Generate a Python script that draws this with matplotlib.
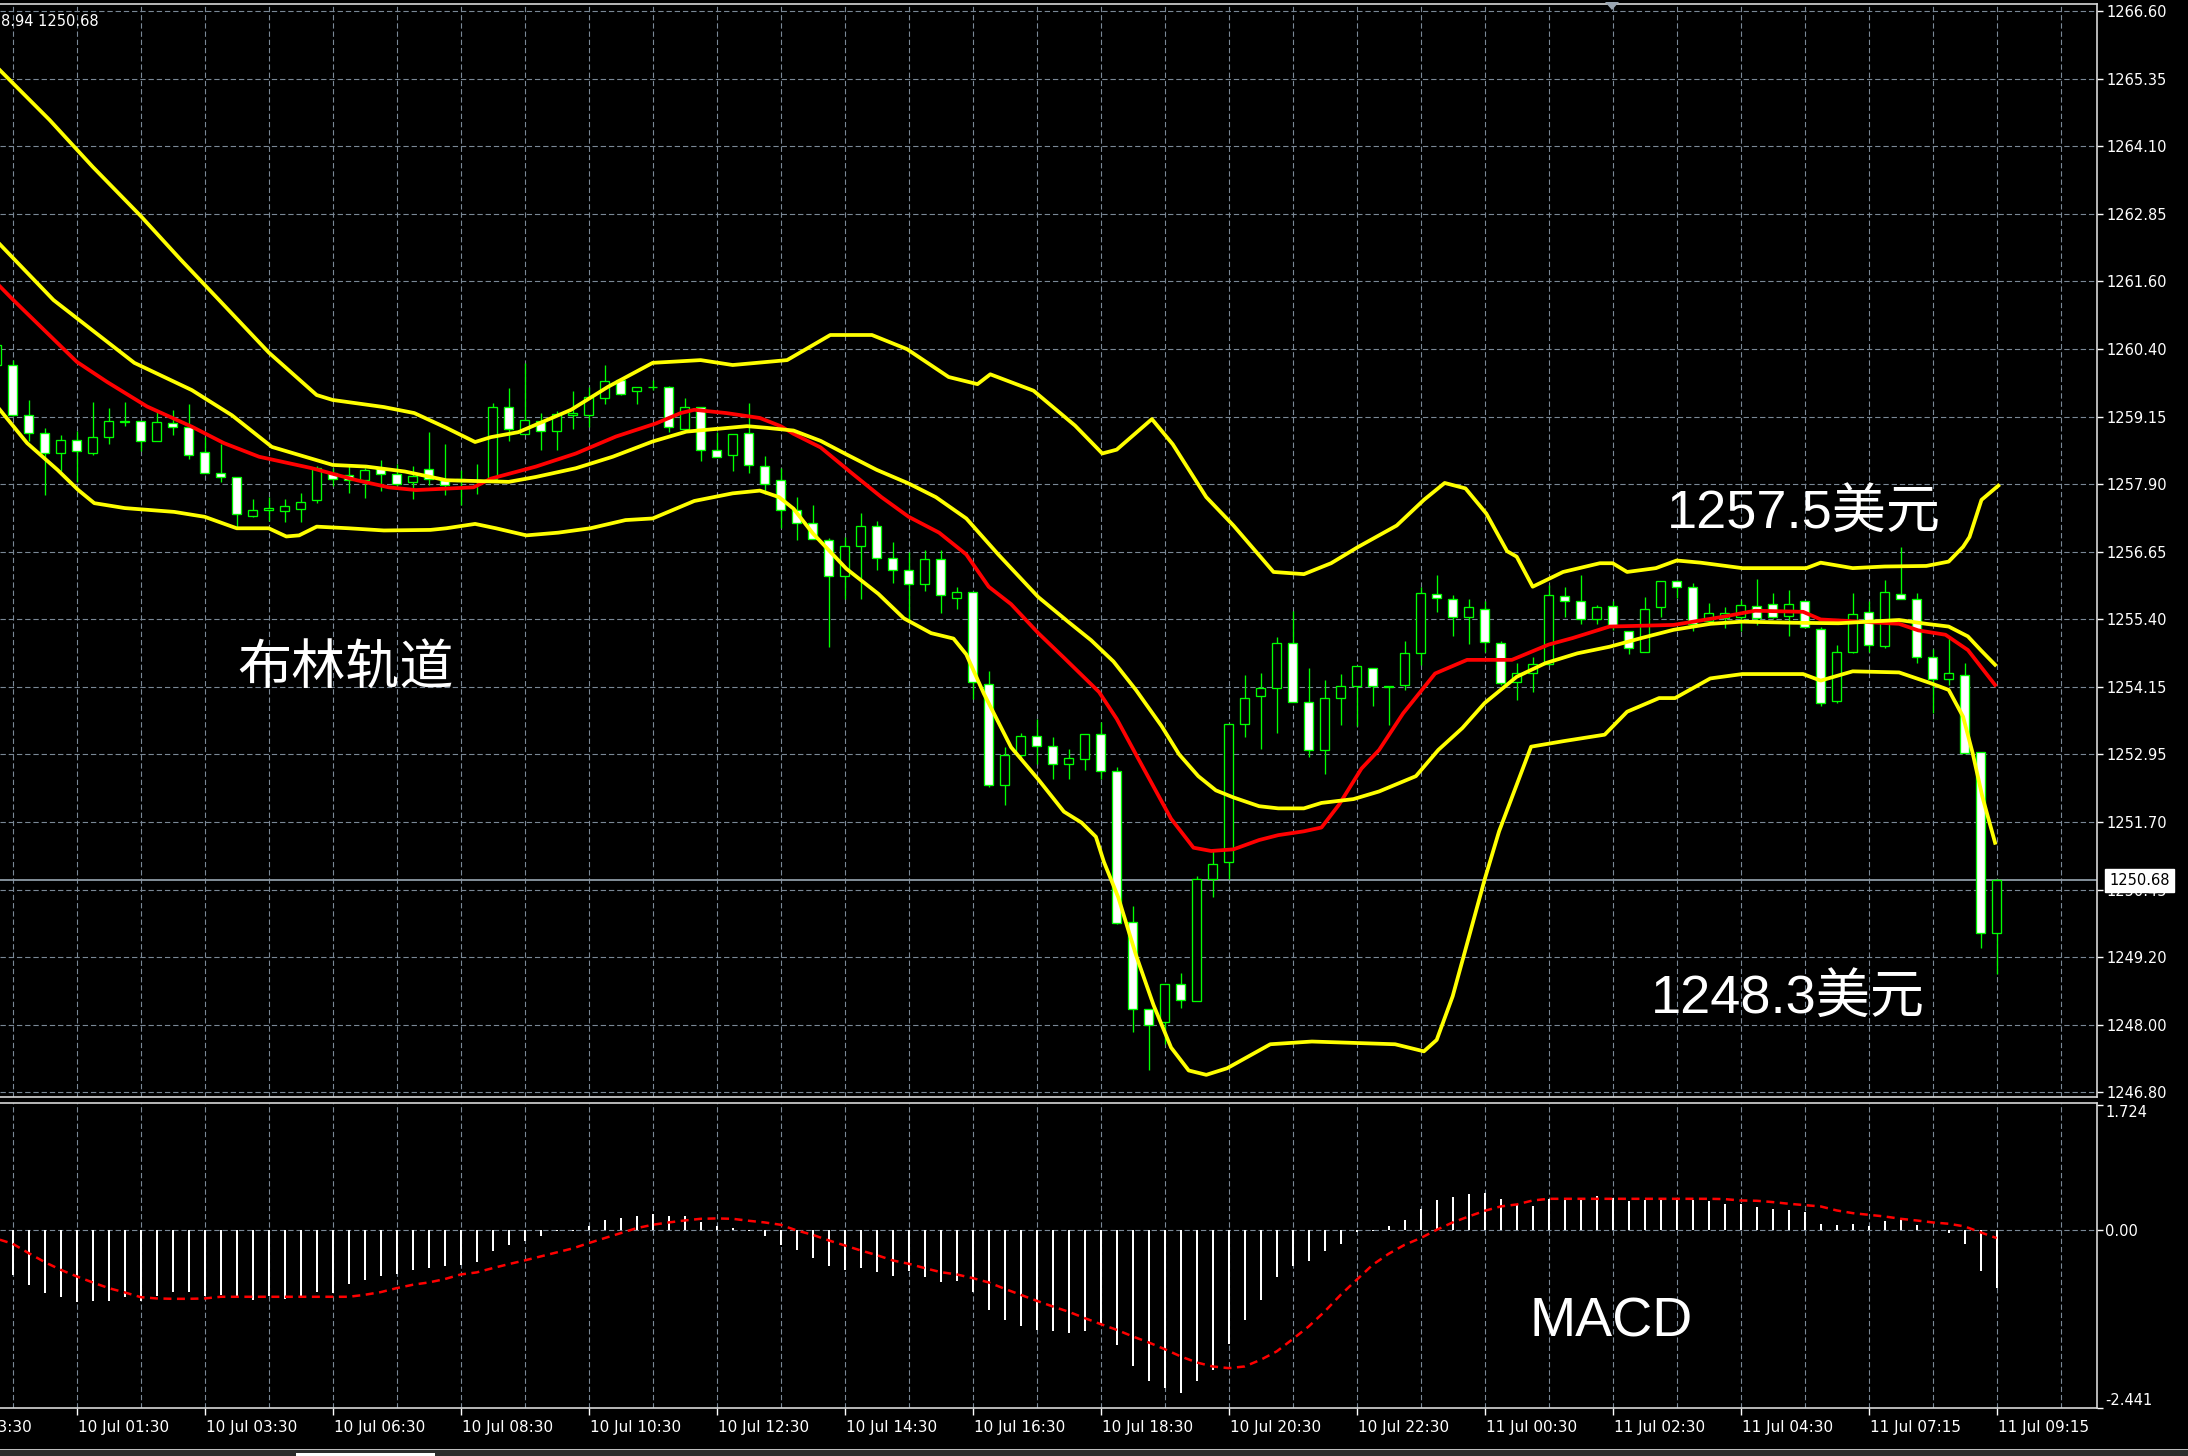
import matplotlib
matplotlib.use('Agg')
import matplotlib.pyplot as plt
import matplotlib.transforms as mtransforms
from matplotlib.patches import Polygon, Rectangle

# ---------------- data ----------------
bar_index = list(range(-1, 125))
opens = [1260.12, 1260.12, 1259.21, 1258.88, 1258.51, 1258.74, 1258.50, 1258.80, 1259.08, 1259.10,
         1258.72, 1259.06, 1258.99, 1258.52, 1258.15, 1258.07, 1257.36, 1257.46, 1257.45, 1257.49,
         1257.64, 1258.14, 1258.10, 1258.01, 1258.23, 1258.12, 1257.97, 1258.21, 1258.01, 1258.03,
         1258.00, 1258.03, 1259.36, 1258.85, 1259.10, 1258.91, 1259.21, 1259.20, 1259.52, 1259.84,
         1259.64, 1259.72, 1259.72, 1258.95, 1259.35, 1258.56, 1258.47, 1258.88, 1258.27, 1258.01,
         1257.46, 1257.22, 1256.92, 1256.26, 1256.80, 1257.18, 1256.59, 1256.36, 1256.11, 1256.56,
         1255.85, 1255.97, 1254.28, 1252.43, 1252.98, 1253.33, 1253.14, 1252.81, 1252.91, 1253.37,
         1252.69, 1249.91, 1248.33, 1248.08, 1248.78, 1248.47, 1250.71, 1251.01, 1253.54, 1254.05,
         1254.20, 1255.02, 1253.94, 1253.07, 1254.02, 1254.25, 1254.57, 1254.25, 1254.26, 1254.84,
         1255.93, 1255.83, 1255.50, 1255.65, 1255.02, 1254.32, 1254.48, 1254.65, 1255.89, 1255.79,
         1255.46, 1255.71, 1255.24, 1254.87, 1255.68, 1256.16, 1256.06, 1255.44, 1255.48, 1255.51,
         1255.71, 1255.75, 1255.52, 1255.79, 1255.28, 1253.96, 1254.87, 1255.60, 1254.97, 1255.93,
         1255.83, 1254.77, 1254.37, 1254.44, 1253.04, 1249.72]
highs = [1260.60, 1260.21, 1259.48, 1258.97, 1258.83, 1258.92, 1259.44, 1259.33, 1259.44, 1259.10,
         1259.27, 1259.29, 1259.40, 1258.81, 1258.68, 1258.07, 1257.66, 1257.70, 1257.66, 1257.77,
         1258.27, 1258.24, 1258.27, 1258.24, 1258.38, 1258.30, 1258.27, 1258.89, 1258.67, 1258.19,
         1258.31, 1259.43, 1259.69, 1260.15, 1259.24, 1259.27, 1259.65, 1259.71, 1260.12, 1259.89,
         1259.72, 1259.85, 1259.74, 1259.51, 1259.35, 1258.90, 1258.85, 1259.43, 1258.46, 1258.24,
         1257.70, 1257.55, 1256.95, 1256.97, 1257.41, 1257.26, 1256.88, 1256.70, 1256.73, 1256.73,
         1256.05, 1255.97, 1254.51, 1253.12, 1253.38, 1253.63, 1253.30, 1253.08, 1253.37, 1253.59,
         1252.76, 1250.22, 1248.33, 1248.78, 1248.98, 1250.77, 1251.25, 1253.54, 1254.44, 1254.48,
         1255.14, 1255.61, 1254.57, 1254.36, 1254.47, 1254.61, 1254.57, 1254.25, 1255.07, 1256.06,
         1256.27, 1255.91, 1255.83, 1255.79, 1255.07, 1254.66, 1254.78, 1256.09, 1256.06, 1256.27,
         1255.72, 1255.79, 1255.24, 1255.88, 1256.16, 1256.18, 1256.12, 1255.77, 1255.68, 1255.82,
         1256.21, 1255.94, 1256.00, 1255.79, 1255.33, 1254.99, 1255.94, 1255.79, 1256.19, 1256.79,
         1255.94, 1254.91, 1255.12, 1254.66, 1253.04, 1250.70]
lows = [1260.00, 1259.19, 1258.72, 1257.74, 1258.18, 1257.97, 1258.47, 1258.68, 1259.01, 1258.54,
        1258.72, 1258.83, 1258.39, 1258.15, 1257.97, 1257.15, 1257.33, 1257.27, 1257.24, 1257.24,
        1257.60, 1257.91, 1257.78, 1257.69, 1257.81, 1257.91, 1257.66, 1257.93, 1257.74, 1257.56,
        1257.75, 1258.00, 1258.72, 1258.85, 1258.57, 1258.57, 1258.95, 1258.99, 1259.40, 1259.57,
        1259.40, 1259.66, 1258.89, 1258.94, 1258.37, 1258.43, 1258.18, 1258.14, 1257.75, 1257.13,
        1256.92, 1256.93, 1254.95, 1255.84, 1255.84, 1256.36, 1256.13, 1255.41, 1255.99, 1255.57,
        1255.65, 1254.00, 1252.40, 1252.07, 1252.92, 1252.82, 1252.53, 1252.53, 1252.71, 1252.53,
        1249.88, 1247.91, 1247.20, 1247.68, 1248.35, 1248.47, 1250.38, 1250.70, 1253.30, 1253.09,
        1253.38, 1253.94, 1252.95, 1252.63, 1253.53, 1253.50, 1253.87, 1253.53, 1254.17, 1254.63,
        1255.60, 1255.16, 1255.01, 1254.87, 1254.26, 1253.99, 1254.14, 1254.63, 1255.51, 1255.38,
        1255.38, 1255.27, 1254.83, 1254.87, 1255.51, 1255.85, 1255.24, 1255.36, 1255.30, 1255.24,
        1255.36, 1255.48, 1255.16, 1255.30, 1253.88, 1253.93, 1254.84, 1254.87, 1254.94, 1255.83,
        1254.66, 1253.74, 1254.26, 1253.02, 1249.45, 1248.96]
closes = [1260.48, 1259.20, 1258.88, 1258.51, 1258.74, 1258.54, 1258.81, 1259.10, 1259.10, 1258.72,
          1259.07, 1258.99, 1258.48, 1258.15, 1258.07, 1257.39, 1257.46, 1257.50, 1257.53, 1257.61,
          1258.23, 1258.04, 1258.01, 1258.19, 1258.13, 1257.95, 1258.09, 1258.03, 1257.92, 1258.00,
          1258.02, 1259.36, 1258.94, 1259.12, 1258.92, 1259.22, 1259.24, 1259.54, 1259.83, 1259.59,
          1259.72, 1259.71, 1258.98, 1259.35, 1258.56, 1258.44, 1258.85, 1258.29, 1257.95, 1257.46,
          1257.22, 1256.93, 1256.26, 1256.81, 1257.18, 1256.59, 1256.36, 1256.11, 1256.56, 1255.90,
          1255.97, 1254.31, 1252.43, 1252.98, 1253.33, 1253.14, 1252.81, 1252.92, 1253.37, 1252.69,
          1249.90, 1248.33, 1248.04, 1248.78, 1248.49, 1250.71, 1250.98, 1253.54, 1254.02, 1254.20,
          1255.02, 1253.94, 1253.07, 1254.02, 1254.25, 1254.61, 1254.25, 1254.23, 1254.84, 1255.94,
          1255.86, 1255.51, 1255.68, 1255.05, 1254.29, 1254.48, 1254.65, 1255.91, 1255.80, 1255.46,
          1255.68, 1255.34, 1254.94, 1255.65, 1256.16, 1256.05, 1255.38, 1255.57, 1255.57, 1255.72,
          1255.48, 1255.51, 1255.75, 1255.33, 1253.93, 1254.87, 1255.56, 1254.99, 1255.97, 1255.83,
          1254.77, 1254.37, 1254.48, 1253.02, 1249.72, 1250.68]

# Bollinger bands (yellow) and moving average (red), sampled at bar positions
upper_x = [-0.8, 2.3, 5, 8, 10.5, 12.9, 16.0, 19.0, 20.0, 23.2, 25.1, 27.1, 28.9, 29.9, 31.6, 34.9,
           37.2, 40.0, 43.0, 45, 48.4, 51.1, 53.7, 55.9, 58.5, 60.3, 61.1, 63.8, 66.4, 68.1, 69,
           71.2, 72.5, 74.6, 76.3, 78.8, 80.7, 82.4, 84.1, 86.5, 88.2, 89.5, 90.8, 92.1, 93.4, 94,
           95, 96.9, 99.2, 100, 100.9, 102.7, 104, 105.5, 108.1, 112.1, 113, 115, 117, 119.6, 121,
           121.9, 122.3, 123.05, 124.1]
upper_y = [1265.52, 1264.61, 1263.75, 1262.85, 1262.05, 1261.31, 1260.35, 1259.57, 1259.48, 1259.35,
           1259.24, 1258.97, 1258.71, 1258.80, 1258.89, 1259.30, 1259.72, 1260.16, 1260.21, 1260.12,
           1260.21, 1260.67, 1260.67, 1260.41, 1259.90, 1259.77, 1259.95, 1259.65, 1259.01, 1258.50,
           1258.57, 1259.13, 1258.67, 1257.70, 1257.18, 1256.33, 1256.29, 1256.49, 1256.79, 1257.18,
           1257.65, 1257.96, 1257.86, 1257.40, 1256.71, 1256.61, 1256.06, 1256.33, 1256.49, 1256.49,
           1256.33, 1256.40, 1256.54, 1256.50, 1256.40, 1256.40, 1256.50, 1256.40, 1256.43, 1256.44,
           1256.52, 1256.79, 1256.97, 1257.65, 1257.91]
middle_x = [-0.8, 2.55, 7.6, 11.2, 13.7, 16.2, 20, 22.1, 24.5, 27.1, 31, 32.7, 35.2, 37.5, 40, 42.1,
            43.6, 45.9, 47.1, 48.8, 50.5, 52, 54, 56, 57.7, 59.6, 61.6, 64.1, 66, 67.4, 68.8, 70.2,
            71.8, 72.9, 74.1, 75.2, 76.3, 77.9, 79.1, 80.7, 81.8, 83.8, 85.4, 87.7, 89.1, 90.6, 92,
            94, 95.8, 97.8, 99.8, 101.8, 103.8, 106.1, 108.1, 111.3, 114.1, 117.9, 119.6, 121,
            122.2, 123, 123.9]
middle_y = [1262.33, 1261.31, 1260.16, 1259.66, 1259.20, 1258.62, 1258.29, 1258.26, 1258.17, 1258.01,
            1257.98, 1258.07, 1258.23, 1258.44, 1258.72, 1258.90, 1258.94, 1259.00, 1258.97, 1258.92,
            1258.73, 1258.50, 1258.20, 1257.95, 1257.70, 1257.31, 1256.65, 1255.87, 1255.41, 1255.08,
            1254.69, 1254.17, 1253.51, 1252.99, 1252.59, 1252.33, 1252.20, 1252.04, 1252.00, 1252.00,
            1252.10, 1252.17, 1252.31, 1252.59, 1253.07, 1253.47, 1253.93, 1254.41, 1254.66, 1254.84,
            1254.96, 1255.12, 1255.27, 1255.38, 1255.42, 1255.40, 1255.39, 1255.45, 1255.38, 1255.33,
            1255.15, 1254.90, 1254.63]
lower_x = [-0.8, 0.9, 2.8, 4.1, 5.1, 7, 10.1, 12, 14, 16, 17.1, 17.9, 19, 21, 23.2, 26.1, 27.1, 28.9,
           30.2, 32.1, 34.1, 36.1, 38.3, 40, 42.6, 45, 46.7, 47.9, 48.8, 50, 52.1, 54.1, 55.7, 57.4,
           58.8, 59.6, 60.7, 62.4, 64.1, 65.7, 66.8, 67.7, 68.2, 69.1, 70.2, 71.3, 72.4, 73.5, 74.6,
           75.9, 78.6, 81.2, 86.4, 88.2, 89, 90, 92, 92.9, 94.9, 96.9, 99.5, 100.9, 102.9, 103.9,
           106.1, 108.1, 111.9, 113, 115, 117.9, 119.9, 121, 121.9, 122.5, 123.1, 123.9]
lower_y = [1259.30, 1258.69, 1258.20, 1257.83, 1257.59, 1257.50, 1257.43, 1257.34, 1257.13, 1257.13,
           1256.98, 1257.00, 1257.16, 1257.13, 1257.09, 1257.10, 1257.13, 1257.21, 1257.13, 1257.00,
           1257.05, 1257.13, 1257.28, 1257.31, 1257.63, 1257.77, 1257.82, 1257.70, 1257.49, 1257.04,
           1256.39, 1255.93, 1255.48, 1255.21, 1255.11, 1254.82, 1254.10, 1253.12, 1252.53, 1251.94,
           1251.74, 1251.48, 1251.02, 1250.37, 1249.32, 1248.40, 1247.62, 1247.20, 1247.12, 1247.24,
           1247.68, 1247.73, 1247.68, 1247.55, 1247.76, 1248.56, 1250.70, 1251.58, 1253.13, 1253.23,
           1253.35, 1253.77, 1254.02, 1254.02, 1254.38, 1254.46, 1254.46, 1254.34, 1254.51, 1254.49,
           1254.29, 1254.17, 1253.68, 1253.01, 1252.22, 1251.37]
red_x = [-0.8, 0.04, 4, 5.9, 8.4, 11.2, 13.2, 15.4, 18.7, 21.5, 23.5, 25.2, 28.8, 29.9, 32.7, 35.2,
         37.7, 40.2, 41.75, 42.6, 44.6, 46.7, 48, 48.8, 50.5, 52.4, 54.3, 56, 57.9, 59.6, 61, 62.4,
         64.1, 65.7, 67.1, 67.9, 69, 70.2, 71.3, 72.4, 73.8, 74.9, 76.3, 77.9, 79.1, 80.7, 81.8,
         82.9, 84.3, 85.4, 86.9, 88.9, 90.9, 93.7, 96, 97.5, 99.8, 103.8, 106.9, 108.9, 111.9, 113,
         117.9, 119.1, 120.8, 122.2, 123.9]
red_y = [1261.56, 1261.31, 1260.18, 1259.81, 1259.36, 1258.99, 1258.69, 1258.44, 1258.23, 1258.01,
         1257.88, 1257.83, 1257.88, 1258.04, 1258.26, 1258.50, 1258.81, 1259.05, 1259.24, 1259.30,
         1259.24, 1259.15, 1259.00, 1258.86, 1258.61, 1258.15, 1257.70, 1257.34, 1257.05, 1256.65,
         1256.06, 1255.74, 1255.21, 1254.76, 1254.36, 1254.13, 1253.64, 1252.99, 1252.40, 1251.81,
         1251.28, 1251.22, 1251.25, 1251.42, 1251.51, 1251.58, 1251.65, 1252.07, 1252.73, 1253.07,
         1253.74, 1254.47, 1254.72, 1254.72, 1255.00, 1255.12, 1255.33, 1255.36, 1255.51, 1255.62,
         1255.60, 1255.46, 1255.38, 1255.26, 1255.18, 1254.90, 1254.26]

# MACD histogram (bars 0..124) and signal line
macd_bars = list(range(0, 125))
macd_hist = [-0.610, -0.756, -0.862, -0.921, -0.985, -0.976, -0.976, -0.921, -0.976, -0.898,
             -0.843, -0.848, -0.907, -0.885, -0.907, -0.953, -0.907, -0.944, -0.907, -0.852,
             -0.862, -0.733, -0.678, -0.623, -0.596, -0.541, -0.518, -0.486, -0.472, -0.431,
             -0.289, -0.206, -0.151, -0.073, -0.014, -0.004, 0.064, 0.147, 0.170, 0.202,
             0.225, 0.202, 0.192, 0.119, 0.064, 0.037, -0.005, -0.073, -0.202, -0.266,
             -0.376, -0.486, -0.541, -0.518, -0.568, -0.623, -0.564, -0.646, -0.706, -0.701,
             -0.852, -1.091, -1.228, -1.311, -1.366, -1.389, -1.412, -1.389, -1.297, -1.581,
             -1.861, -2.076, -2.168, -2.236, -2.076, -1.916, -1.558, -1.228, -0.953, -0.646,
             -0.486, -0.426, -0.289, -0.183, -0.027, -0.005, 0.064, 0.147, 0.293, 0.422,
             0.454, 0.500, 0.509, 0.431, 0.348, 0.339, 0.431, 0.440, 0.431, 0.472,
             0.440, 0.399, 0.422, 0.431, 0.431, 0.422, 0.399, 0.367, 0.367, 0.316,
             0.289, 0.284, 0.257, 0.092, 0.069, 0.092, 0.064, 0.124, 0.156, 0.078,
             0.005, -0.037, -0.183, -0.564, -0.793]
signal_x = [-0.8] + list(range(0, 125))
signal_y = [-0.128,
            -0.183, -0.312, -0.435, -0.541, -0.632, -0.715, -0.793, -0.852, -0.917, -0.935,
            -0.940, -0.940, -0.935, -0.912, -0.912, -0.912, -0.912, -0.912, -0.912, -0.912,
            -0.912, -0.912, -0.885, -0.848, -0.793, -0.747, -0.715, -0.669, -0.605, -0.577,
            -0.518, -0.463, -0.412, -0.357, -0.302, -0.247, -0.174, -0.105, -0.037, 0.032,
            0.078, 0.110, 0.137, 0.160, 0.165, 0.160, 0.133, 0.110, 0.078, 0.000,
            -0.060, -0.137, -0.206, -0.275, -0.339, -0.412, -0.458, -0.518, -0.573, -0.605,
            -0.655, -0.715, -0.802, -0.885, -0.967, -1.045, -1.118, -1.205, -1.288, -1.366,
            -1.457, -1.540, -1.632, -1.732, -1.815, -1.870, -1.893, -1.870, -1.778, -1.663,
            -1.494, -1.320, -1.114, -0.885, -0.678, -0.472, -0.321, -0.197, -0.105, 0.009,
            0.110, 0.192, 0.270, 0.330, 0.357, 0.412, 0.435, 0.435, 0.435, 0.435,
            0.435, 0.435, 0.435, 0.435, 0.435, 0.435, 0.435, 0.431, 0.412, 0.408,
            0.390, 0.367, 0.348, 0.330, 0.275, 0.238, 0.215, 0.192, 0.160, 0.137,
            0.110, 0.092, 0.055, -0.027, -0.105]

price_ticks = [1266.6000, 1265.3625, 1264.1250, 1262.8875, 1261.6500, 1260.4125, 1259.1750,
               1257.9375, 1256.7000, 1255.4625, 1254.2250, 1252.9875, 1251.7500, 1250.5125,
               1249.2750, 1248.0375, 1246.8000]
price_labels = ["1266.60", "1265.35", "1264.10", "1262.85", "1261.60", "1260.40", "1259.15",
                "1257.90", "1256.65", "1255.40", "1254.15", "1252.95", "1251.70", "1250.45",
                "1249.20", "1248.00", "1246.80"]
macd_ticks = [1.724, 0.0, -2.441]
macd_labels = ["1.724", "0.00", "-2.441"]
time_bars = [-4, 4, 12, 20, 28, 36, 44, 52, 60, 68, 76, 84, 92, 100, 108, 116, 124]
time_labels = ["9 Jul 23:30", "10 Jul 01:30", "10 Jul 03:30", "10 Jul 06:30", "10 Jul 08:30",
               "10 Jul 10:30", "10 Jul 12:30", "10 Jul 14:30", "10 Jul 16:30", "10 Jul 18:30",
               "10 Jul 20:30", "10 Jul 22:30", "11 Jul 00:30", "11 Jul 02:30", "11 Jul 04:30",
               "11 Jul 07:15", "11 Jul 09:15"]
grid_bars = list(range(0, 132, 4))
current_price = 1250.68
info_text = "8.94 1250.68"
annotations = [("1257.5美元", 111.96, 1257.39), ("1248.3美元", 110.96, 1248.51),
               ("布林轨道", 20.8, 1254.53)]
macd_title = ("MACD", 99.9, -1.269)

# ---------------- style ----------------
W, H, DPI = 2188, 1456, 100
BG = 'black'
GRID = '#7a8896'
FRAME = '#d8d8d8'
GREEN = '#00ff00'
YELLOW = '#ffff00'
RED = '#ff0000'
TXT_FONT = ['DejaVu Sans']
ANN_FONT = ['Liberation Sans', 'Noto Sans CJK SC']
LINE_W = 2.7

fig = plt.figure(figsize=(W / DPI, H / DPI), dpi=DPI, facecolor=BG)


def fy(py):
    return 1 - py / H


ax = fig.add_axes([0, fy(1097), 2097 / W, (1097 - 4) / H], facecolor=BG)
ax2 = fig.add_axes([0, fy(1408), 2097 / W, (1408 - 1103) / H], facecolor=BG)

xlim = (-0.794, 130.27)
for a in (ax, ax2):
    a.set_xlim(*xlim)
    for s in ('top', 'right', 'bottom'):
        a.spines[s].set_color(FRAME)
        a.spines[s].set_linewidth(1.2)
    a.spines['left'].set_visible(False)

ax.set_ylim(1246.714, 1266.732)
ax2.set_ylim(-2.441, 1.752)

dash = (0, (4.8, 2.6))
# grid
for g in grid_bars:
    ax.axvline(g, color=GRID, lw=0.8, ls=dash, zorder=0.5)
    ax2.axvline(g, color=GRID, lw=0.8, ls=dash, zorder=0.5)
for p in price_ticks:
    ax.axhline(p, color=GRID, lw=0.8, ls=dash, zorder=0.5)
ax2.axhline(0, color=GRID, lw=0.8, ls=dash, zorder=0.5)

# current price line
ax.axhline(current_price, color='#8d9aa6', lw=1.3, zorder=1)

# candles
body_w = 0.55
for x, o, h, l, c in zip(bar_index, opens, highs, lows, closes):
    ax.vlines(x, l, h, colors=GREEN, lw=0.95, zorder=2)
    fill = 'white' if c < o else 'black'
    bottom = min(o, c)
    height = max(abs(c - o), 0.004)
    ax.bar(x, height, bottom=bottom, width=body_w, color=fill, edgecolor=GREEN,
           linewidth=0.95, zorder=3)

# indicator lines
ax.plot(red_x, red_y, color=RED, lw=LINE_W, zorder=4, solid_joinstyle='round')
ax.plot(middle_x, middle_y, color=YELLOW, lw=LINE_W, zorder=4, solid_joinstyle='round')
ax.plot(upper_x, upper_y, color=YELLOW, lw=LINE_W, zorder=4, solid_joinstyle='round')
ax.plot(lower_x, lower_y, color=YELLOW, lw=LINE_W, zorder=4, solid_joinstyle='round')

# price axis
ax.yaxis.tick_right()
ax.set_yticks(price_ticks)
ax.set_yticklabels(price_labels, family=TXT_FONT)
ax.tick_params(axis='y', colors='white', labelsize=10.5, length=4, width=1, pad=3,
               direction='out')
ax.set_xticks([])

# current price label box
tr = mtransforms.blended_transform_factory(ax.transAxes, ax.transData)
ax.text(1.0058, current_price, f"{current_price:.2f}", transform=tr, ha='left', va='center',
        fontsize=10.5, color='black', family=TXT_FONT, clip_on=False, zorder=20,
        bbox=dict(boxstyle='square,pad=0.28', facecolor='white', edgecolor='white'))

# MACD panel
ax2.bar(macd_bars, macd_hist, width=0.12, color='white', linewidth=0, zorder=2)
ax2.plot(signal_x, signal_y, color=RED, lw=1.8, ls=(0, (3.2, 2.2)), zorder=3)
ax2.yaxis.tick_right()
ax2.set_yticks(macd_ticks)
ax2.set_yticklabels(macd_labels, family=TXT_FONT)
ax2.tick_params(axis='y', colors='white', labelsize=10.5, length=4, width=1, pad=2,
                direction='out')
ylabs = ax2.get_yticklabels()
ylabs[0].set_va('top')
ylabs[2].set_va('bottom')

ax2.set_xticks([b for b in time_bars if b >= xlim[0]])
ax2.set_xticklabels([])
ax2.tick_params(axis='x', colors='white', length=5, width=1, direction='out')
trx = mtransforms.blended_transform_factory(ax2.transData, ax2.transAxes)
for b, lab in zip(time_bars, time_labels):
    ax2.text(b + 0.1, -0.063, lab, transform=trx, ha='left', va='center', color='white',
             fontsize=11, family=TXT_FONT, clip_on=False)

# annotations
for txt, x, y in annotations:
    ax.text(x, y, txt, ha='center', va='center', color='white', fontsize=39,
            family=ANN_FONT, zorder=10)
ax2.text(macd_title[1], macd_title[2], macd_title[0], ha='center', va='center', color='white',
         fontsize=40, family=ANN_FONT, zorder=10)

# info text and decorations
fig.text(1 / W, fy(21), info_text, color='white', fontsize=10.5, family=TXT_FONT,
         ha='left', va='center')
fig.patches.append(Polygon([[1605 / W, fy(2)], [1619 / W, fy(2)], [1612 / W, fy(10)]],
                           closed=True, transform=fig.transFigure, facecolor='#9aa6b2',
                           edgecolor='none'))
fig.patches.append(Rectangle((0, fy(1450)), 1, 1.5 / H, transform=fig.transFigure,
                             facecolor='#bdbdbd', edgecolor='none'))
fig.patches.append(Rectangle((0, 0), 1, fy(1450), transform=fig.transFigure,
                             facecolor='#2c2c2c', edgecolor='none'))
fig.patches.append(Rectangle((296 / W, 0), (435 - 296) / W, fy(1453), transform=fig.transFigure,
                             facecolor='white', edgecolor='none'))

fig.savefig('out.png', dpi=DPI, facecolor=BG)
